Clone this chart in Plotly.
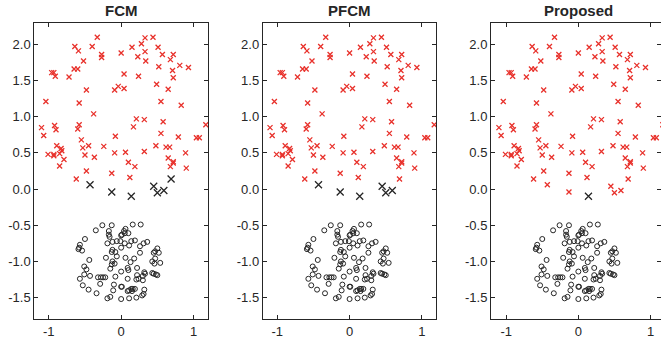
import plotly.graph_objects as go

# ---------------- data ----------------
titles = ["FCM", "PFCM", "Proposed"]

# upper cluster (always assigned to the red class)
red_x = [-0.33, 0.33, 0.44, -0.64, -0.40, -0.59, 0.00, 0.28, 0.15, 0.33, 0.51, -0.27, -0.27, 0.23,
         0.57, 0.72, -0.52, 0.34, 0.68, 0.81, 0.93, 0.52, 0.71, -0.65, -0.60, -0.96, -0.93, -0.91,
         -0.72, 0.04, 0.24, 0.72, -0.09, -0.04, 0.04, 0.49, -0.48, 0.65, -1.04, -0.58, 0.55, 0.83,
         -0.38, 0.21, 0.32, 0.58, -1.10, -0.58, -0.60, -0.92, -0.90, 0.17, -1.07, -0.08, 0.55, 1.17,
         1.04, 1.08, 0.79, -0.55, -0.89, -0.83, -0.82, -0.85, -0.93, -0.93, -1.01, -0.79, -0.85,
         -0.45, -0.53, -0.24, -0.50, -0.37, -0.09, 0.06, 0.32, 0.48, 0.62, 0.67, 0.65, 0.72, 0.72,
         0.68, 0.89, 0.90, 0.10, 0.19, -0.48, -0.13, 0.12, -0.62]
red_y = [2.10, 2.09, 2.10, 1.97, 1.97, 1.91, 1.88, 2.01, 1.96, 1.90, 1.96, 1.86, 1.82, 1.83,
         1.86, 1.86, 1.77, 1.77, 1.79, 1.71, 1.68, 1.69, 1.64, 1.66, 1.66, 1.61, 1.61, 1.56,
         1.55, 1.59, 1.56, 1.54, 1.37, 1.42, 1.39, 1.45, 1.37, 1.38, 1.21, 1.19, 1.21, 1.16,
         1.04, 0.97, 0.96, 0.93, 0.85, 0.89, 0.83, 0.88, 0.82, 0.86, 0.74, 0.73, 0.77, 0.89,
         0.71, 0.71, 0.72, 0.68, 0.60, 0.56, 0.53, 0.49, 0.48, 0.46, 0.48, 0.41, 0.32,
         0.60, 0.57, 0.59, 0.47, 0.44, 0.50, 0.51, 0.52, 0.60, 0.58, 0.58, 0.43, 0.38, 0.36,
         0.31, 0.50, 0.29, 0.37, 0.31, 0.25, 0.22, 0.16, 0.14]

# boundary points whose assignment differs between methods
amb_x = [-0.43, -0.13, 0.14, 0.45, 0.50, 0.59, 0.69]
amb_y = [0.06, -0.04, -0.10, 0.04, -0.05, -0.02, 0.14]
miss_fcm = [1, 1, 1, 1, 1, 1, 1]
miss_pfcm = [1, 1, 1, 1, 1, 1, 0]
miss_proposed = [0, 0, 1, 0, 0, 0, 0]
misses = [miss_fcm, miss_pfcm, miss_proposed]

# lower cluster (black circles)
circ_x = [-0.26, -0.13, 0.16, 0.27, -0.35, -0.17, 0.06, 0.04, 0.05, 0.01, 0.00, 0.10, -0.17, -0.16,
          -0.50, -0.06, -0.12, -0.19, -0.01, 0.14, 0.19, 0.05, 0.11, 0.36, 0.31, 0.26, -0.57, -0.58,
          -0.59, -0.54, -0.12, -0.13, -0.08, 0.00, 0.26, 0.50, 0.47, 0.45, 0.52, -0.21, -0.06, -0.12,
          -0.09, -0.13, 0.06, 0.18, 0.47, 0.43, 0.46, 0.54, -0.44, -0.51, -0.48, -0.15, 0.00, 0.09,
          0.10, 0.13, 0.22, 0.32, 0.33, 0.30, 0.22, 0.24, 0.43, 0.45, 0.48, 0.50, -0.57, -0.51, -0.43,
          -0.32, -0.28, -0.25, -0.22, -0.08, 0.09, 0.21, 0.30, -0.29, -0.53, -0.45, -0.34, -0.10, -0.11,
          0.00, 0.01, 0.14, 0.11, 0.16, 0.19, 0.15, 0.09, 0.32, 0.31, -0.19, -0.15, 0.00, 0.11, 0.21, 0.29]
circ_y = [-0.50, -0.50, -0.49, -0.49, -0.57, -0.58, -0.55, -0.58, -0.61, -0.63, -0.64, -0.61, -0.63, -0.66,
          -0.69, -0.72, -0.73, -0.75, -0.72, -0.72, -0.71, -0.75, -0.78, -0.73, -0.75, -0.79, -0.77, -0.81,
          -0.83, -0.85, -0.84, -0.87, -0.87, -0.81, -0.88, -0.82, -0.86, -0.88, -0.88, -0.95, -0.93, -1.00,
          -1.03, -1.04, -0.95, -0.96, -0.96, -1.00, -1.03, -1.02, -0.98, -1.07, -1.11, -1.10, -1.14, -1.09,
          -1.12, -1.01, -1.09, -1.15, -1.17, -1.20, -1.19, -1.24, -1.16, -1.17, -1.18, -1.19, -1.24, -1.18, -1.20,
          -1.22, -1.22, -1.22, -1.22, -1.21, -1.24, -1.25, -1.26, -1.31, -1.33, -1.39, -1.44, -1.32, -1.40,
          -1.35, -1.35, -1.38, -1.40, -1.38, -1.38, -1.41, -1.41, -1.39, -1.45, -1.51, -1.49, -1.52, -1.51, -1.50, -1.47]

y_ticks = [-1.5, -1.0, -0.5, 0.0, 0.5, 1.0, 1.5, 2.0]
y_ticklabels = ["-1.5", "-1.0", "-0.5", "0.0", "0.5", "1.0", "1.5", "2.0"]
x_ticks = [-1, 0, 1]
x_ticklabels = ["-1", "0", "1"]

# ---------------- figure ----------------
W, H = 661, 343
RED = "#e8312b"
INK = "#262626"
FONT = "Liberation Sans, Arial, sans-serif"


def px_x(p):
    return p / W


def px_y(p):
    return 1 - p / H


x_domains = [(px_x(34.3), px_x(208.0)), (px_x(262.8), px_x(436.4)), (px_x(491.0), 1.0)]
x_ranges = [(-1.2, 1.2), (-1.2, 1.2), (-1.21, 1.145)]
y_domain = (px_y(319.3), px_y(22.7))
y_range = (-1.8, 2.3)

fig = go.Figure()
for i in range(3):
    xa = "x" if i == 0 else f"x{i + 1}"
    ya = "y" if i == 0 else f"y{i + 1}"
    m = misses[i]
    rx = red_x + [amb_x[k] for k in range(len(amb_x)) if m[k] == 0]
    ry = red_y + [amb_y[k] for k in range(len(amb_y)) if m[k] == 0]
    bx = [amb_x[k] for k in range(len(amb_x)) if m[k] == 1]
    by = [amb_y[k] for k in range(len(amb_y)) if m[k] == 1]
    fig.add_trace(go.Scatter(x=circ_x, y=circ_y, mode="markers", xaxis=xa, yaxis=ya,
                             marker=dict(symbol="circle-open", size=5, color=INK,
                                         line=dict(width=1, color=INK)),
                             showlegend=False, hoverinfo="skip"))
    fig.add_trace(go.Scatter(x=rx, y=ry, mode="markers", xaxis=xa, yaxis=ya,
                             marker=dict(symbol="x-thin-open", size=5, color=RED,
                                         line=dict(width=1.3, color=RED)),
                             showlegend=False, hoverinfo="skip"))
    fig.add_trace(go.Scatter(x=bx, y=by, mode="markers", xaxis=xa, yaxis=ya,
                             marker=dict(symbol="x-thin-open", size=7, color=INK,
                                         line=dict(width=1.3, color=INK)),
                             showlegend=False, hoverinfo="skip"))

    axis_common = dict(showgrid=False, zeroline=False, showline=True, linecolor=INK,
                       linewidth=1, mirror="ticks", ticks="inside", ticklen=4, tickwidth=1,
                       tickcolor=INK, tickfont=dict(family=FONT, size=13, color=INK))
    xkey = "xaxis" if i == 0 else f"xaxis{i + 1}"
    ykey = "yaxis" if i == 0 else f"yaxis{i + 1}"
    fig.update_layout({
        xkey: dict(domain=list(x_domains[i]), range=list(x_ranges[i]), anchor=ya,
                   tickvals=x_ticks, ticktext=x_ticklabels, **axis_common),
        ykey: dict(domain=list(y_domain), range=list(y_range), anchor=xa,
                   tickvals=y_ticks, ticktext=y_ticklabels, **axis_common),
    })
    fig.add_annotation(text=f"<b>{titles[i]}</b>", xref=xa, yref="paper", x=0,
                       y=px_y(11), xanchor="center", yanchor="middle", showarrow=False,
                       font=dict(family=FONT, size=15, color=INK))

fig.update_layout(width=W, height=H, margin=dict(l=0, r=0, t=0, b=0),
                  paper_bgcolor="white", plot_bgcolor="white")

# remove the default page margin so the figure fills the window exactly; hide the mode bar
fig.write_html("out.html", config={"displayModeBar": False},
               post_script="document.body.style.margin='0';")
